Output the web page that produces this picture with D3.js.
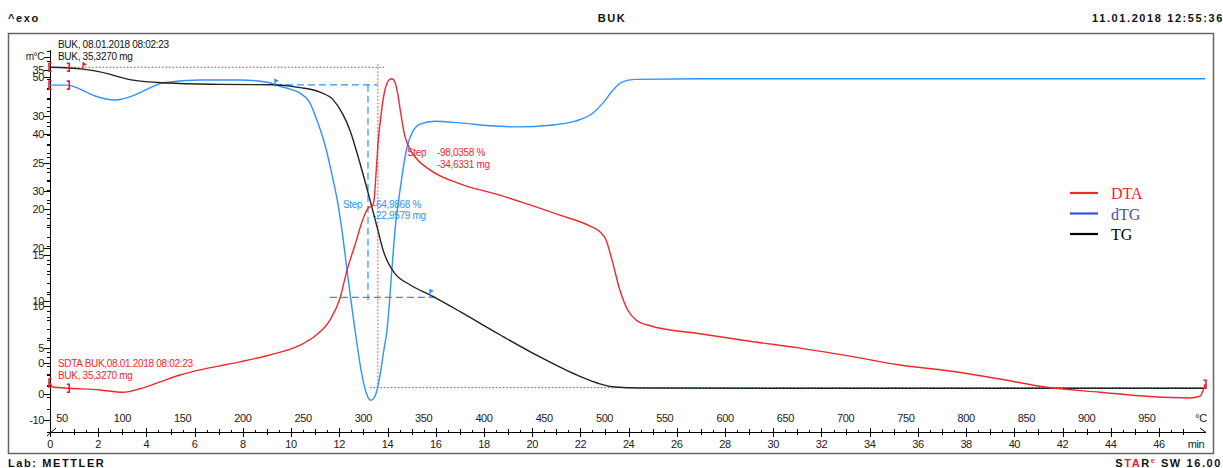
<!DOCTYPE html>
<html>
<head>
<meta charset="utf-8">
<script src="https://cdn.jsdelivr.net/npm/d3@7"></script>
<style>
  body { margin: 0; background: #fff; }
  svg { display: block; }
  text { font-family: "Liberation Sans", Arial, sans-serif; }
</style>
</head>
<body>
<div id="chart"></div>
<script>

// ---- data ----
// time axis (min) and temperature labels (°C), 40 °C start, 20 K/min
var timeTicks = [0, 2, 4, 6, 8, 10, 12, 14, 16, 18, 20, 22, 24, 26, 28, 30, 32, 34, 36, 38, 40, 42, 44, 46];
var tempTicks = [50, 100, 150, 200, 250, 300, 350, 400, 450, 500, 550, 600, 650, 700, 750, 800, 850, 900, 950];
var startTemp = 40;
var heatingRate = 20;

// left axis labels: TG in mg, signal axis (DTA / dTG)
var tgTicks = [0, 5, 10, 15, 20, 25, 30, 35];
var signalTicks = [-10, 0, 10, 20, 30, 40, 50];

// TG curve (mg)
var tgTime = [0, 1.37, 2.07, 3.44, 4.85, 7.05, 9.25, 10.37, 11.20, 11.74, 12.15, 12.44, 12.86, 13.27, 13.60, 13.81, 14.02, 14.31, 14.93, 15.76, 17.01, 18.66, 20.32, 21.98, 22.81, 23.43, 24.47, 31.11, 39.40, 47.91];
var tgMass = [35.3, 35.1, 34.8, 33.9, 33.6, 33.45, 33.4, 33.1, 32.6, 31.8, 30.2, 28.5, 24.9, 21.0, 17.7, 15.6, 14.2, 13.0, 11.8, 10.7, 8.9, 6.4, 4.0, 1.9, 1.1, 0.76, 0.65, 0.62, 0.62, 0.62];

// dTG curve (signal axis units)
var dtgTime = [0, 0.75, 1.24, 1.87, 2.70, 3.53, 4.15, 4.69, 6.22, 7.88, 9.00, 9.54, 9.95, 10.37, 10.78, 11.07, 11.41, 11.70, 11.95, 12.11, 12.32, 12.65, 12.94, 13.15, 13.31, 13.48, 13.69, 13.85, 13.98, 14.18, 14.31, 14.52, 14.81, 15.06, 15.35, 15.97, 17.01, 18.25, 19.49, 20.74, 21.78, 22.48, 22.94, 23.35, 23.72, 24.26, 26.96, 31.11, 35.26, 39.40, 43.55, 47.91];
var dtgValue = [48.5, 48.5, 47.8, 46.6, 45.9, 46.8, 48.0, 48.9, 49.4, 49.4, 49.0, 48.3, 47.8, 47.1, 45.4, 42.4, 38.0, 32.8, 27.6, 23.2, 16.2, 5.8, -2.1, -5.6, -6.5, -5.8, -2.1, 2.3, 5.8, 16.2, 23.2, 30.2, 37.7, 40.5, 41.7, 42.2, 41.9, 41.4, 41.2, 41.5, 42.2, 43.5, 45.4, 47.6, 49.0, 49.5, 49.6, 49.6, 49.6, 49.6, 49.6, 49.6];

// DTA curve (signal axis units)
var dtaTime = [0, 0.12, 0.83, 2.07, 3.03, 3.73, 4.56, 5.39, 6.22, 7.05, 7.88, 9.12, 10.37, 10.99, 11.61, 12.03, 12.32, 12.65, 12.94, 13.11, 13.23, 13.36, 13.44, 13.52, 13.60, 13.73, 13.89, 14.06, 14.18, 14.31, 14.43, 14.56, 14.68, 14.85, 15.14, 15.76, 17.13, 18.66, 19.91, 21.15, 22.40, 22.81, 23.06, 23.31, 23.64, 23.97, 24.31, 24.89, 26.96, 29.03, 31.11, 33.18, 35.26, 37.33, 39.40, 41.27, 43.55, 45.62, 47.28, 47.70, 47.91];
var dtaValue = [-3.5, -4.2, -4.4, -4.7, -5.1, -4.5, -3.3, -2.1, -1.2, -0.5, 0.2, 1.4, 3.1, 4.7, 7.5, 11.3, 16.2, 20.6, 24.6, 26.4, 27.2, 27.4, 28.4, 32.8, 38.0, 43.3, 47.6, 49.4, 49.6, 49.0, 46.8, 43.3, 40.3, 38.0, 36.0, 33.7, 31.1, 29.3, 27.6, 25.8, 23.9, 22.9, 21.5, 18.0, 12.7, 9.2, 7.5, 6.5, 5.1, 3.8, 2.6, 1.2, -0.35, -1.4, -2.8, -4.2, -5.1, -5.85, -6.1, -5.8, -3.7];

// step evaluations
var tgStepLevels = [35.3, 0.69];       // -34,6331 mg
var dtgStepLevels = [33.4, 10.44];     // 22,9579 mg

var seriesNames = ["DTA", "dTG", "TG"];
var seriesColors = ["#ee2a2a", "#3a50e0", "#000000"];


/*
 *  ThermoChart - Object constructor function
 *  @param _parentElement   -- HTML element in which to draw the visualization
 */

ThermoChart = function(_parentElement) {
    this.parentElement = _parentElement;
    this.initVis();
};


ThermoChart.prototype.initVis = function() {
    var vis = this;

    vis.width = 1223;
    vis.height = 468;

    vis.svg = d3.select("#" + vis.parentElement).append("svg")
        .attr("width", vis.width)
        .attr("height", vis.height);

    // Scales
    vis.x = d3.scaleLinear().domain([0, 46]).range([50, 1159]);
    vis.yTG = d3.scaleLinear().domain([0, 35]).range([394, 70]);
    vis.ySig = d3.scaleLinear().domain([0, 50]).range([363, 76.5]);

    vis.colDTA = "#f0282d";
    vis.colDTG = "#2f92ff";
    vis.colTG = "#222";

    vis.drawFrame();
    vis.drawAxes();
    vis.drawAnnotations();
    vis.updateVis();
    vis.drawLegend();
};


ThermoChart.prototype.drawFrame = function() {
    var vis = this;

    var head = vis.svg.append("g")
        .style("font-size", "11px")
        .style("font-weight", "bold")
        .style("letter-spacing", "1.6px")
        .attr("fill", "#111");

    head.append("text").attr("x", 8).attr("y", 22).text("^exo");
    head.append("text").attr("x", 612).attr("y", 22).attr("text-anchor", "middle").text("BUK");
    head.append("text").attr("x", 1224).attr("y", 22).attr("text-anchor", "end").text("11.01.2018 12:55:36");
    head.append("text").attr("x", 8).attr("y", 467).text("Lab: METTLER");

    var star = head.append("text").attr("x", 1222).attr("y", 467).attr("text-anchor", "end");
    star.append("tspan").text("S");
    star.append("tspan").attr("fill", "#e8202a").text("TA");
    star.append("tspan").text("R");
    star.append("tspan").attr("fill", "#e8202a").attr("font-size", "7px").attr("dy", -4).text("e");
    star.append("tspan").attr("dy", 4).text(" SW 16.00");

    vis.svg.append("rect")
        .attr("x", 8.5).attr("y", 33.5)
        .attr("width", 1205).attr("height", 420)
        .attr("fill", "none")
        .attr("stroke", "#666")
        .attr("stroke-width", 1.5);
};


ThermoChart.prototype.drawAxes = function() {
    var vis = this;
    var g = vis.svg.append("g").attr("stroke", "#000").attr("stroke-width", 1);

    // vertical axis line
    g.append("line").attr("x1", 50.5).attr("x2", 50.5).attr("y1", 50).attr("y2", 432);

    // TG ticks (major every 5 mg, minor every 1 mg)
    d3.range(0, 38, 1).forEach(function(v) {
        var major = v % 5 === 0;
        g.append("line")
            .attr("x1", major ? 44 : 47).attr("x2", 50)
            .attr("y1", Math.round(vis.yTG(v)) + 0.5).attr("y2", Math.round(vis.yTG(v)) + 0.5);
    });
    // signal ticks (major every 10, minor every 2)
    d3.range(-12, 52, 2).forEach(function(v) {
        var major = v % 10 === 0;
        g.append("line")
            .attr("x1", major ? 44 : 47).attr("x2", 50)
            .attr("y1", Math.round(vis.ySig(v)) + 0.5).attr("y2", Math.round(vis.ySig(v)) + 0.5);
    });
    g.append("line").attr("x1", 44).attr("x2", 50).attr("y1", 57.5).attr("y2", 57.5);

    var lab = vis.svg.append("g")
        .style("font-size", "11px")
        .style("letter-spacing", "-0.4px")
        .attr("fill", "#222")
        .attr("text-anchor", "end");

    tgTicks.forEach(function(v) {
        lab.append("text").attr("x", 44).attr("y", vis.yTG(v) + 4).text(v);
    });
    signalTicks.forEach(function(v) {
        lab.append("text").attr("x", 44).attr("y", vis.ySig(v) + 4).text(v);
    });
    lab.append("text").attr("x", 44).attr("y", 60).style("font-size", "10px").text("m°C");

    // horizontal time axis
    g.append("line").attr("x1", 50).attr("x2", 1206).attr("y1", 432.5).attr("y2", 432.5);
    g.append("line").attr("x1", 1200).attr("x2", 1206).attr("y1", 428).attr("y2", 432.5);
    g.append("line").attr("x1", 47).attr("x2", 56).attr("y1", 436).attr("y2", 428);

    d3.range(0, 47.5, 0.5).forEach(function(t) {
        var px = Math.round(vis.x(t)) + 0.5;
        var y1 = 430, y2 = 433;
        if (t % 2 === 0) { y1 = 428; y2 = 437; }
        else if (t % 1 === 0) { y1 = 429; y2 = 435; }
        g.append("line").attr("x1", px).attr("x2", px).attr("y1", y1).attr("y2", y2);
    });

    var xl = vis.svg.append("g")
        .style("font-size", "11px")
        .style("letter-spacing", "-0.4px")
        .attr("fill", "#222")
        .attr("text-anchor", "middle");

    timeTicks.forEach(function(t) {
        xl.append("text").attr("x", vis.x(t)).attr("y", 448).text(t);
    });
    xl.append("text").attr("x", 1196).attr("y", 448).text("min");

    tempTicks.forEach(function(T) {
        xl.append("text").attr("x", vis.x((T - startTemp) / heatingRate)).attr("y", 422).text(T);
    });
    xl.append("text").attr("x", 1201).attr("y", 422).text("°C");
};


ThermoChart.prototype.drawAnnotations = function() {
    var vis = this;
    var a = vis.svg.append("g").attr("fill", "none");

    // TG step (red dotted)
    var redTop = vis.yTG(tgStepLevels[0]), redBot = vis.yTG(tgStepLevels[1]);
    a.append("line").attr("x1", vis.x(0)).attr("x2", vis.x(13.95)).attr("y1", redTop).attr("y2", redTop);
    a.append("line").attr("x1", vis.x(13.6)).attr("x2", vis.x(13.6)).attr("y1", redTop - 3).attr("y2", redBot);
    a.append("line").attr("x1", vis.x(13.27)).attr("x2", vis.x(47.91)).attr("y1", redBot).attr("y2", redBot);
    a.selectAll("line")
        .attr("stroke", "#f03030")
        .attr("stroke-width", 1)
        .attr("stroke-dasharray", "1.5,2");

    // dTG step (blue dashed)
    var b = vis.svg.append("g")
        .attr("stroke", "#2f92ff")
        .attr("stroke-width", 1.2)
        .attr("stroke-dasharray", "7,4");
    var bTop = vis.yTG(dtgStepLevels[0]), bBot = vis.yTG(dtgStepLevels[1]);
    b.append("line").attr("x1", vis.x(9.33)).attr("x2", vis.x(13.6)).attr("y1", bTop).attr("y2", bTop);
    b.append("line").attr("x1", vis.x(13.19)).attr("x2", vis.x(13.19)).attr("y1", bTop).attr("y2", bBot + 3);
    b.append("line").attr("x1", vis.x(11.61)).attr("x2", vis.x(16.05)).attr("y1", bBot).attr("y2", bBot);

    // texts
    var t = vis.svg.append("g").style("font-size", "10px").style("letter-spacing", "-0.3px");
    t.append("text").attr("x", 58).attr("y", 48).attr("fill", "#111").text("BUK, 08.01.2018 08:02:23");
    t.append("text").attr("x", 58).attr("y", 60).attr("fill", "#111").text("BUK, 35,3270 mg");
    t.append("text").attr("x", 58).attr("y", 367).attr("fill", vis.colDTA).text("SDTA BUK,08.01.2018 08:02:23");
    t.append("text").attr("x", 58).attr("y", 379).attr("fill", vis.colDTA).text("BUK, 35,3270 mg");

    t.append("text").attr("x", 407).attr("y", 156).attr("fill", vis.colDTA).text("Step");
    t.append("text").attr("x", 437).attr("y", 156).attr("fill", vis.colDTA).text("-98,0358 %");
    t.append("text").attr("x", 437).attr("y", 168).attr("fill", vis.colDTA).text("-34,6331 mg");
    t.append("text").attr("x", 343).attr("y", 208).attr("fill", vis.colDTG).text("Step");
    t.append("text").attr("x", 373).attr("y", 208).attr("fill", vis.colDTG).text("-64,9868 %");
    t.append("text").attr("x", 373).attr("y", 219).attr("fill", vis.colDTG).text("-22,9579 mg");
};


ThermoChart.prototype.updateVis = function() {
    var vis = this;

    var line = d3.line().curve(d3.curveMonotoneX);

    var dtg = dtgTime.map(function(t, i) { return [vis.x(t), vis.ySig(dtgValue[i])]; });
    var tg = tgTime.map(function(t, i) { return [vis.x(t), vis.yTG(tgMass[i])]; });
    var dta = dtaTime.map(function(t, i) { return [vis.x(t), vis.ySig(dtaValue[i])]; });

    vis.svg.append("path").attr("d", line(dtg))
        .attr("fill", "none").attr("stroke", vis.colDTG).attr("stroke-width", 1.4);
    vis.svg.append("path").attr("d", line(tg))
        .attr("fill", "none").attr("stroke", vis.colTG).attr("stroke-width", 1.4);
    vis.svg.append("path").attr("d", line(dta))
        .attr("fill", "none").attr("stroke", vis.colDTA).attr("stroke-width", 1.4);

    // evaluation brackets
    var m = vis.svg.append("g").attr("fill", "none").attr("stroke", "#e8202a").attr("stroke-width", 1.6);
    function bracket(px, py, dir) {
        m.append("path").attr("d",
            "M" + (px + dir * 2.5) + "," + (py - 4) + "L" + px + "," + (py - 4) +
            "L" + px + "," + (py + 4) + "L" + (px + dir * 2.5) + "," + (py + 4));
    }
    bracket(vis.x(0) - 1, vis.yTG(tgMass[0]), 1);
    bracket(vis.x(0.8), vis.yTG(tgMass[0]), -1);
    bracket(vis.x(0) - 1, vis.ySig(dtgValue[0]), 1);
    bracket(vis.x(0.8), vis.ySig(dtgValue[0]), -1);
    bracket(vis.x(0) - 1, vis.ySig(dtaValue[0]), 1);
    bracket(vis.x(0.8), vis.ySig(dtaValue[2]), -1);
    bracket(vis.x(47.95), vis.ySig(dtaValue[dtaValue.length - 1]), -1);

    // flags
    function flag(px, py, col) {
        var f = vis.svg.append("g");
        f.append("line").attr("x1", px).attr("x2", px).attr("y1", py - 6).attr("y2", py + 2)
            .attr("stroke", col).attr("stroke-width", 1.3);
        f.append("path").attr("d", "M" + px + "," + (py - 6) + "L" + (px + 4) + "," + (py - 4) + "L" + px + "," + (py - 2) + "Z")
            .attr("fill", col);
    }
    flag(vis.x(1.37), vis.yTG(35.2), "#e8202a");
    flag(vis.x(9.33), vis.yTG(dtgStepLevels[0]), vis.colDTG);
    flag(vis.x(15.76), vis.yTG(10.7), vis.colDTG);
};


ThermoChart.prototype.drawLegend = function() {
    var vis = this;
    var lg = vis.svg.append("g");
    var textColors = ["#e02a30", "#4a4ac8", "#000"];

    seriesNames.forEach(function(name, i) {
        var yy = 193 + i * 20.5;
        lg.append("line")
            .attr("x1", 1070).attr("x2", 1098)
            .attr("y1", yy).attr("y2", yy)
            .attr("stroke", seriesColors[i]).attr("stroke-width", 2.2);
        lg.append("text")
            .attr("x", 1111).attr("y", yy + 6)
            .style("font-family", "'Liberation Serif', 'Times New Roman', serif")
            .style("font-size", "16px")
            .attr("fill", textColors[i])
            .text(name);
    });
};


var chart = new ThermoChart("chart");
</script>
</body>
</html>
